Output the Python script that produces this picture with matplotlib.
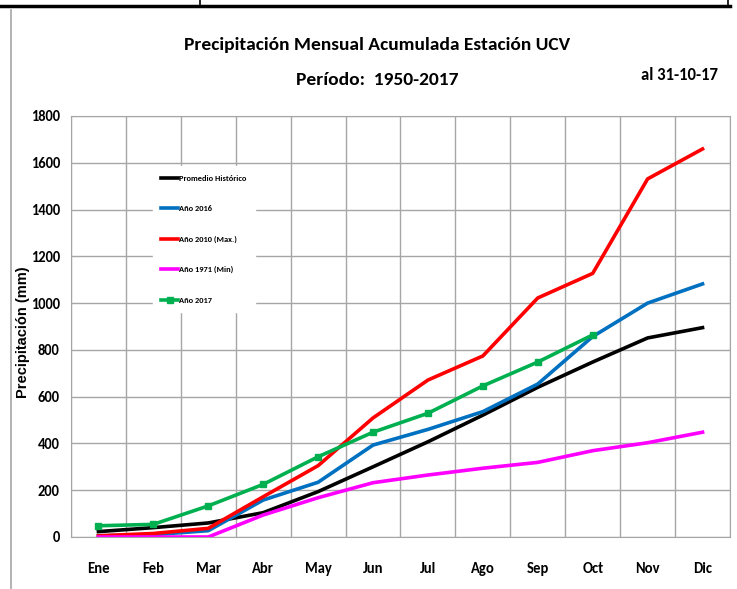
import matplotlib.pyplot as plt
from matplotlib.lines import Line2D
import numpy as np

meses = ["Ene", "Feb", "Mar", "Abr", "May", "Jun", "Jul", "Ago", "Sep", "Oct", "Nov", "Dic"]

promedio = [23, 40, 60, 104, 194, 300, 407, 521, 640, 748, 851, 895]
a2016 = [5, 10, 27, 158, 234, 393, 460, 536, 654, 857, 1000, 1082]
a2010 = [5, 15, 37, 172, 305, 509, 671, 774, 1022, 1127, 1531, 1659]
a1971 = [0, 0, 0, 94, 168, 232, 265, 294, 319, 369, 403, 448]
a2017 = [48, 54, 133, 225, 343, 448, 529, 646, 748, 864]

fuente = ["Carlito", "DejaVu Sans"]

fig = plt.figure(figsize=(7.37, 5.89), dpi=100)
ax = fig.add_axes([0.0963, 0.0883, 0.8942, 0.7148])

x = np.arange(len(meses))
ax.plot(x, promedio, color="black", lw=2.6, label="Promedio Histórico", zorder=3)
ax.plot(x, a2016, color="#0070c0", lw=2.6, label="Año 2016", zorder=3)
ax.plot(x, a2010, color="red", lw=2.6, label="Año 2010 (Max.)", zorder=3)
ax.plot(x, a1971, color="#ff00ff", lw=2.6, label="Año 1971 (Min)", zorder=3)
ax.plot(x[:len(a2017)], a2017, color="#00b050", lw=2.6, marker="s", ms=5,
        label="Año 2017", zorder=4)

ax.set_xlim(-0.5, 11.5)
ax.set_ylim(0, 1800)
ax.set_yticks(range(0, 1801, 200))
ax.set_xticks(x)
ax.set_xticklabels(meses)
ax.set_xticks(np.arange(-0.5, 12, 1), minor=True)
ax.grid(True, which="minor", axis="x", color="#a6a6a6", lw=1)
ax.grid(True, which="major", axis="y", color="#a6a6a6", lw=1)
ax.tick_params(which="both", length=0)
ax.tick_params(axis="x", pad=18)
ax.tick_params(axis="y", pad=8)
for lab in ax.get_xticklabels() + ax.get_yticklabels():
    lab.set_family(fuente)
    lab.set_fontweight("bold")
    lab.set_fontsize(10.5)
for s in ax.spines.values():
    s.set_color("#a6a6a6")

ax.set_ylabel("Precipitación (mm)", fontsize=10.5, fontweight="bold",
              family=["Liberation Sans", "DejaVu Sans"])
ax.yaxis.set_label_coords(-0.062, 0.487)

leg = ax.legend(loc="upper left", bbox_to_anchor=(0.118, 0.89),
                handlelength=2.0, labelspacing=2.8, borderpad=1.0, handletextpad=0.15,
                frameon=True, fancybox=False, edgecolor="white", framealpha=1,
                prop={"family": fuente, "weight": "bold", "size": 6})
leg.set_zorder(5)

fig.text(0.512, 0.924, "Precipitación Mensual Acumulada Estación UCV", ha="center",
         va="center", fontsize=14, fontweight="bold", family=fuente)
fig.text(0.512, 0.864, "Período:  1950-2017", ha="center", va="center",
         fontsize=14, fontweight="bold", family=fuente)
fig.text(0.922, 0.873, "al 31-10-17", ha="center", va="center",
         fontsize=12, fontweight="bold", family=fuente)

fig.add_artist(Line2D([0, 0.99], [0.99, 0.99], color="black", lw=2.5))
fig.add_artist(Line2D([0.271, 0.271], [0.99, 1], color="black", lw=1.2))
fig.add_artist(Line2D([0.988, 0.988], [0.99, 1], color="black", lw=1.2))
fig.add_artist(Line2D([0.015, 0.015], [0, 0.983], color="#a6a6a6", lw=1.2))

fig.savefig("out.png", dpi=100)
